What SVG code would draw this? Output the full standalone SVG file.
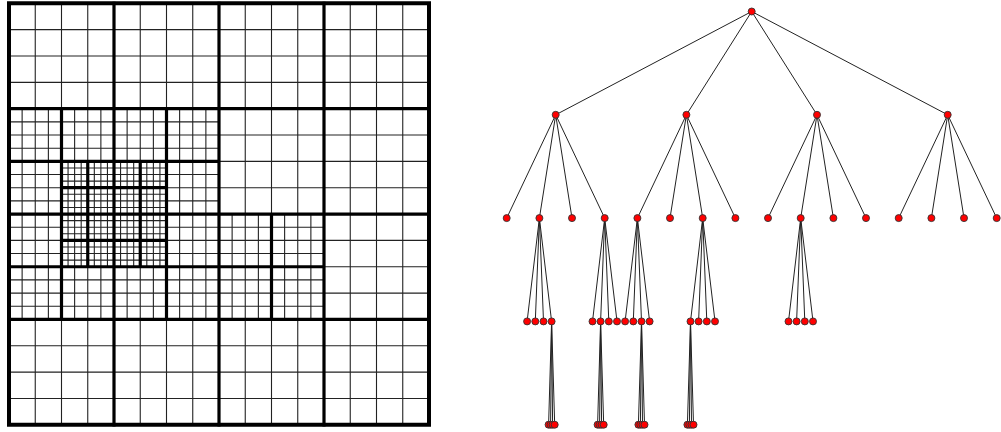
<svg xmlns="http://www.w3.org/2000/svg" width="1001" height="432" viewBox="0 0 1001 432">
<style>
.fine{fill:none;stroke:#222;stroke-width:1.1;vector-effect:non-scaling-stroke}
.thick{fill:none;stroke:#000;stroke-width:3.2;vector-effect:non-scaling-stroke;stroke-linecap:square}
.border{fill:none;stroke:#000;stroke-width:4;vector-effect:non-scaling-stroke}
.edges line{stroke:#222;stroke-width:1}
.node circle{fill:#f00;stroke:#333;stroke-width:0.9}
</style>
<rect width="1001" height="432" fill="#fff"/>
<g id="quadtree" transform="translate(9,3.3) scale(6.5625,6.586)">
<path class="fine" d="M4 0V64M8 0V64M12 0V64M16 0V64M20 0V64M24 0V64M28 0V64M32 0V64M36 0V64M40 0V64M44 0V64M48 0V64M52 0V64M56 0V64M60 0V64M0 4H64M0 8H64M0 12H64M0 16H64M0 20H64M0 24H64M0 28H64M0 32H64M0 36H64M0 40H64M0 44H64M0 48H64M0 52H64M0 56H64M0 60H64"/>
<path class="fine" d="M2 16V48M6 16V48M10 16V48M14 16V48M18 16V48M22 16V48M26 16V48M30 16V48M0 18H32M0 22H32M0 26H32M0 30H32M0 34H32M0 38H32M0 42H32M0 46H32M34 32V48M38 32V48M42 32V48M46 32V48M32 34H48M32 38H48M32 42H48M32 46H48"/>
<path class="fine" d="M9 24V40M11 24V40M13 24V40M15 24V40M17 24V40M19 24V40M21 24V40M23 24V40M8 25H24M8 27H24M8 29H24M8 31H24M8 33H24M8 35H24M8 37H24M8 39H24"/>
<path class="thick" d="M16 0V64M32 0V64M48 0V64M0 16H64M0 32H64M0 48H64M8 16V48M24 16V48M40 32V48M0 24H32M0 40H48M12 24V40M20 24V40M8 28H24M8 36H24"/>
<rect class="border" x="0" y="0" width="64" height="64"/>
</g>
<g id="connectors" class="edges">
<line x1="751.7" y1="11.5" x2="555.7" y2="114.8"/>
<line x1="751.7" y1="11.5" x2="686.4" y2="114.8"/>
<line x1="751.7" y1="11.5" x2="817" y2="114.8"/>
<line x1="751.7" y1="11.5" x2="947.7" y2="114.8"/>
<line x1="555.7" y1="114.8" x2="506.7" y2="218.1"/>
<line x1="555.7" y1="114.8" x2="539.4" y2="218.1"/>
<line x1="555.7" y1="114.8" x2="572" y2="218.1"/>
<line x1="555.7" y1="114.8" x2="604.7" y2="218.1"/>
<line x1="686.4" y1="114.8" x2="637.4" y2="218.1"/>
<line x1="686.4" y1="114.8" x2="670" y2="218.1"/>
<line x1="686.4" y1="114.8" x2="702.7" y2="218.1"/>
<line x1="686.4" y1="114.8" x2="735.4" y2="218.1"/>
<line x1="817" y1="114.8" x2="768" y2="218.1"/>
<line x1="817" y1="114.8" x2="800.7" y2="218.1"/>
<line x1="817" y1="114.8" x2="833.4" y2="218.1"/>
<line x1="817" y1="114.8" x2="866" y2="218.1"/>
<line x1="947.7" y1="114.8" x2="898.7" y2="218.1"/>
<line x1="947.7" y1="114.8" x2="931.4" y2="218.1"/>
<line x1="947.7" y1="114.8" x2="964" y2="218.1"/>
<line x1="947.7" y1="114.8" x2="996.7" y2="218.1"/>
<line x1="539.4" y1="218.1" x2="527.1" y2="321.4"/>
<line x1="539.4" y1="218.1" x2="535.3" y2="321.4"/>
<line x1="539.4" y1="218.1" x2="543.5" y2="321.4"/>
<line x1="539.4" y1="218.1" x2="551.6" y2="321.4"/>
<line x1="604.7" y1="218.1" x2="592.5" y2="321.4"/>
<line x1="604.7" y1="218.1" x2="600.6" y2="321.4"/>
<line x1="604.7" y1="218.1" x2="608.8" y2="321.4"/>
<line x1="604.7" y1="218.1" x2="617" y2="321.4"/>
<line x1="637.4" y1="218.1" x2="625.1" y2="321.4"/>
<line x1="637.4" y1="218.1" x2="633.3" y2="321.4"/>
<line x1="637.4" y1="218.1" x2="641.5" y2="321.4"/>
<line x1="637.4" y1="218.1" x2="649.6" y2="321.4"/>
<line x1="702.7" y1="218.1" x2="690.5" y2="321.4"/>
<line x1="702.7" y1="218.1" x2="698.6" y2="321.4"/>
<line x1="702.7" y1="218.1" x2="706.8" y2="321.4"/>
<line x1="702.7" y1="218.1" x2="715" y2="321.4"/>
<line x1="800.7" y1="218.1" x2="788.5" y2="321.4"/>
<line x1="800.7" y1="218.1" x2="796.6" y2="321.4"/>
<line x1="800.7" y1="218.1" x2="804.8" y2="321.4"/>
<line x1="800.7" y1="218.1" x2="813" y2="321.4"/>
<line x1="551.6" y1="321.4" x2="548.6" y2="424.7"/>
<line x1="551.6" y1="321.4" x2="550.6" y2="424.7"/>
<line x1="551.6" y1="321.4" x2="552.6" y2="424.7"/>
<line x1="551.6" y1="321.4" x2="554.7" y2="424.7"/>
<line x1="600.6" y1="321.4" x2="597.6" y2="424.7"/>
<line x1="600.6" y1="321.4" x2="599.6" y2="424.7"/>
<line x1="600.6" y1="321.4" x2="601.6" y2="424.7"/>
<line x1="600.6" y1="321.4" x2="603.7" y2="424.7"/>
<line x1="641.5" y1="321.4" x2="638.4" y2="424.7"/>
<line x1="641.5" y1="321.4" x2="640.4" y2="424.7"/>
<line x1="641.5" y1="321.4" x2="642.5" y2="424.7"/>
<line x1="641.5" y1="321.4" x2="644.5" y2="424.7"/>
<line x1="690.5" y1="321.4" x2="687.4" y2="424.7"/>
<line x1="690.5" y1="321.4" x2="689.4" y2="424.7"/>
<line x1="690.5" y1="321.4" x2="691.5" y2="424.7"/>
<line x1="690.5" y1="321.4" x2="693.5" y2="424.7"/>
</g>
<g id="root" class="node"><circle cx="751.7" cy="11.5" r="3.5"/></g>
<g id="n0" class="node"><circle cx="555.7" cy="114.8" r="3.5"/></g>
<g id="n1" class="node"><circle cx="686.4" cy="114.8" r="3.5"/></g>
<g id="n2" class="node"><circle cx="817" cy="114.8" r="3.5"/></g>
<g id="n3" class="node"><circle cx="947.7" cy="114.8" r="3.5"/></g>
<g id="n00" class="node"><circle cx="506.7" cy="218.1" r="3.5"/></g>
<g id="n01" class="node"><circle cx="539.4" cy="218.1" r="3.5"/></g>
<g id="n02" class="node"><circle cx="572" cy="218.1" r="3.5"/></g>
<g id="n03" class="node"><circle cx="604.7" cy="218.1" r="3.5"/></g>
<g id="n10" class="node"><circle cx="637.4" cy="218.1" r="3.5"/></g>
<g id="n11" class="node"><circle cx="670" cy="218.1" r="3.5"/></g>
<g id="n12" class="node"><circle cx="702.7" cy="218.1" r="3.5"/></g>
<g id="n13" class="node"><circle cx="735.4" cy="218.1" r="3.5"/></g>
<g id="n20" class="node"><circle cx="768" cy="218.1" r="3.5"/></g>
<g id="n21" class="node"><circle cx="800.7" cy="218.1" r="3.5"/></g>
<g id="n22" class="node"><circle cx="833.4" cy="218.1" r="3.5"/></g>
<g id="n23" class="node"><circle cx="866" cy="218.1" r="3.5"/></g>
<g id="n30" class="node"><circle cx="898.7" cy="218.1" r="3.5"/></g>
<g id="n31" class="node"><circle cx="931.4" cy="218.1" r="3.5"/></g>
<g id="n32" class="node"><circle cx="964" cy="218.1" r="3.5"/></g>
<g id="n33" class="node"><circle cx="996.7" cy="218.1" r="3.5"/></g>
<g id="n010" class="node"><circle cx="527.1" cy="321.4" r="3.5"/></g>
<g id="n011" class="node"><circle cx="535.3" cy="321.4" r="3.5"/></g>
<g id="n012" class="node"><circle cx="543.5" cy="321.4" r="3.5"/></g>
<g id="n013" class="node"><circle cx="551.6" cy="321.4" r="3.5"/></g>
<g id="n030" class="node"><circle cx="592.5" cy="321.4" r="3.5"/></g>
<g id="n031" class="node"><circle cx="600.6" cy="321.4" r="3.5"/></g>
<g id="n032" class="node"><circle cx="608.8" cy="321.4" r="3.5"/></g>
<g id="n033" class="node"><circle cx="617" cy="321.4" r="3.5"/></g>
<g id="n100" class="node"><circle cx="625.1" cy="321.4" r="3.5"/></g>
<g id="n101" class="node"><circle cx="633.3" cy="321.4" r="3.5"/></g>
<g id="n102" class="node"><circle cx="641.5" cy="321.4" r="3.5"/></g>
<g id="n103" class="node"><circle cx="649.6" cy="321.4" r="3.5"/></g>
<g id="n120" class="node"><circle cx="690.5" cy="321.4" r="3.5"/></g>
<g id="n121" class="node"><circle cx="698.6" cy="321.4" r="3.5"/></g>
<g id="n122" class="node"><circle cx="706.8" cy="321.4" r="3.5"/></g>
<g id="n123" class="node"><circle cx="715" cy="321.4" r="3.5"/></g>
<g id="n210" class="node"><circle cx="788.5" cy="321.4" r="3.5"/></g>
<g id="n211" class="node"><circle cx="796.6" cy="321.4" r="3.5"/></g>
<g id="n212" class="node"><circle cx="804.8" cy="321.4" r="3.5"/></g>
<g id="n213" class="node"><circle cx="813" cy="321.4" r="3.5"/></g>
<g id="n0130" class="node"><circle cx="548.6" cy="424.7" r="3.5"/></g>
<g id="n0131" class="node"><circle cx="550.6" cy="424.7" r="3.5"/></g>
<g id="n0132" class="node"><circle cx="552.6" cy="424.7" r="3.5"/></g>
<g id="n0133" class="node"><circle cx="554.7" cy="424.7" r="3.5"/></g>
<g id="n0310" class="node"><circle cx="597.6" cy="424.7" r="3.5"/></g>
<g id="n0311" class="node"><circle cx="599.6" cy="424.7" r="3.5"/></g>
<g id="n0312" class="node"><circle cx="601.6" cy="424.7" r="3.5"/></g>
<g id="n0313" class="node"><circle cx="603.7" cy="424.7" r="3.5"/></g>
<g id="n1020" class="node"><circle cx="638.4" cy="424.7" r="3.5"/></g>
<g id="n1021" class="node"><circle cx="640.4" cy="424.7" r="3.5"/></g>
<g id="n1022" class="node"><circle cx="642.5" cy="424.7" r="3.5"/></g>
<g id="n1023" class="node"><circle cx="644.5" cy="424.7" r="3.5"/></g>
<g id="n1200" class="node"><circle cx="687.4" cy="424.7" r="3.5"/></g>
<g id="n1201" class="node"><circle cx="689.4" cy="424.7" r="3.5"/></g>
<g id="n1202" class="node"><circle cx="691.5" cy="424.7" r="3.5"/></g>
<g id="n1203" class="node"><circle cx="693.5" cy="424.7" r="3.5"/></g>
</svg>
